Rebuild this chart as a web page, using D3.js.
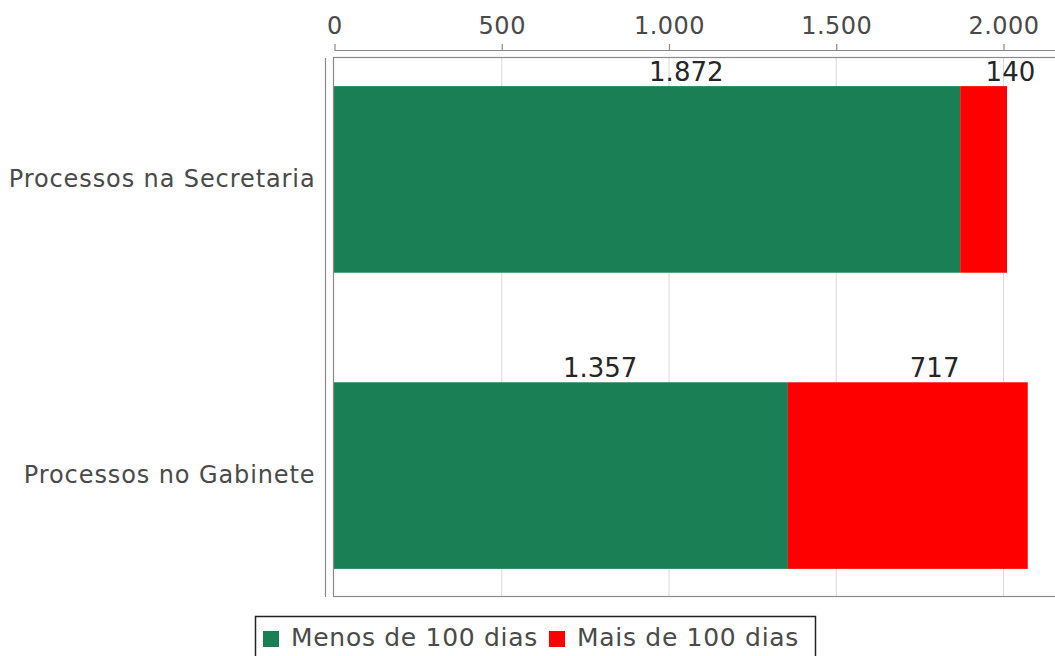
<!DOCTYPE html>
<html>
<head>
<meta charset="utf-8">
<script src="https://cdn.jsdelivr.net/npm/d3@7"></script>
<style>
  html, body { margin: 0; padding: 0; background: #fff; }
  svg { display: block; font-family: "DejaVu Sans", sans-serif; }
</style>
</head>
<body>
<svg id="chart" width="1055" height="656"></svg>
<script>
// Categories and stacked series
const categories = ["Processos na Secretaria", "Processos no Gabinete"];
const seriesNames = ["Menos de 100 dias", "Mais de 100 dias"];
const menos100 = [1872, 1357];
const mais100 = [140, 717];
const tickValues = [0, 500, 1000, 1500, 2000];
const seriesColors = ["#1b7f55", "#ff0000"];

const svg = d3.select("#chart");

const plot = { left: 334, top: 58, right: 1070, bottom: 597 };

const ptBR = d3.formatLocale({ decimal: ",", thousands: ".", grouping: [3], currency: ["R$", ""] });
const fmt = ptBR.format(",d");

const x = d3.scaleLinear().domain([0, 2200]).range([plot.left, plot.left + 2200 * 0.3345]);
const y = d3.scaleBand().domain(categories).range([plot.top, plot.bottom])
  .paddingInner(0.37).paddingOuter(0.095);

const rows = categories.map((c, i) => ({ cat: c, [seriesNames[0]]: menos100[i], [seriesNames[1]]: mais100[i] }));
const stacked = d3.stack().keys(seriesNames)(rows);

// gridlines
svg.append("g").selectAll("line").data(tickValues.slice(1)).join("line")
  .attr("x1", d => x(d) + 0.5).attr("x2", d => x(d) + 0.5)
  .attr("y1", plot.top).attr("y2", plot.bottom)
  .attr("stroke", "#d9d9d9").attr("stroke-width", 1);

// bars
const layer = svg.append("g").selectAll("g").data(stacked).join("g")
  .attr("fill", (d, i) => seriesColors[i]);
layer.selectAll("rect").data(d => d).join("rect")
  .attr("x", d => x(d[0]))
  .attr("width", d => x(d[1]) - x(d[0]))
  .attr("y", d => y(d.data.cat))
  .attr("height", y.bandwidth());

// value labels, starting at segment midpoint
const labelG = svg.append("g");
stacked.forEach(s => {
  labelG.selectAll(null).data(s).join("text")
    .attr("x", d => (x(d[0]) + x(d[1])) / 2 + 2)
    .attr("y", d => y(d.data.cat) - 5)
    .attr("font-size", 26)
    .attr("fill", "#262626")
    .text(d => fmt(d[1] - d[0]));
});

// plot frame
svg.append("rect")
  .attr("x", plot.left - 0.5).attr("y", plot.top - 0.5)
  .attr("width", plot.right - plot.left).attr("height", plot.bottom - plot.top)
  .attr("fill", "none").attr("stroke", "#8a8a8a").attr("stroke-width", 1.2);

// top axis
const axisTop = d3.axisTop(x).tickValues(tickValues).tickFormat(fmt)
  .tickSizeInner(6).tickSizeOuter(0).tickPadding(10);
const gx = svg.append("g").attr("transform", `translate(0.5,${50})`).call(axisTop);
gx.select(".domain").attr("stroke", "#8a8a8a").attr("stroke-width", 1.2)
  .attr("d", `M${plot.left},0.5H${plot.right}`);
gx.selectAll(".tick line").attr("stroke", "#8a8a8a").attr("stroke-width", 1.2);
gx.selectAll(".tick text").attr("font-size", 24).attr("fill", "#4a4a4a")
  .attr("font-family", "DejaVu Sans").attr("letter-spacing", "0.5px");

// left axis
const axisLeft = d3.axisLeft(y).tickSize(0).tickPadding(10);
const gy = svg.append("g").attr("transform", `translate(${325.5},0)`).call(axisLeft);
gy.select(".domain").attr("stroke", "#8a8a8a").attr("stroke-width", 1.2)
  .attr("d", `M0,${plot.top}V${plot.bottom}`);
gy.selectAll(".tick text").attr("font-size", 24).attr("fill", "#4a4a4a")
  .attr("font-family", "DejaVu Sans").attr("letter-spacing", "0.9px");

// legend
const legend = svg.append("g");
legend.append("rect").attr("x", 255.5).attr("y", 616.5).attr("width", 560).attr("height", 50)
  .attr("fill", "#fff").attr("stroke", "#222").attr("stroke-width", 1.5);
const items = [{ name: seriesNames[0], color: seriesColors[0], x: 263 },
               { name: seriesNames[1], color: seriesColors[1], x: 549 }];
items.forEach(it => {
  legend.append("rect").attr("x", it.x).attr("y", 631).attr("width", 16).attr("height", 16).attr("fill", it.color);
  legend.append("text").attr("x", it.x + 28).attr("y", 646)
    .attr("font-size", 25).attr("fill", "#4a4a4a").attr("letter-spacing", "0.7px").text(it.name);
});
</script>
</body>
</html>
